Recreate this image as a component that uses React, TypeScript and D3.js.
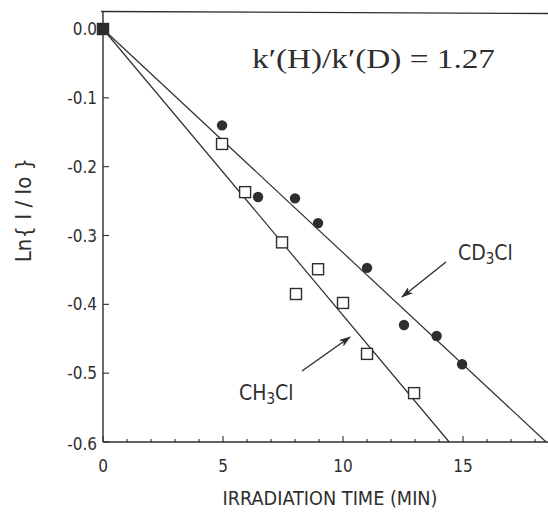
import React from 'react';
import * as d3 from 'd3';

// irradiation time (min) and Ln(I/Io)
const cd3clTime = [0, 4.96, 6.46, 8.0, 8.96, 11.0, 12.54, 13.9, 14.96];
const cd3clLn = [0, -0.14, -0.244, -0.246, -0.282, -0.347, -0.43, -0.446, -0.487];
const ch3clTime = [0, 4.96, 5.92, 7.46, 8.04, 8.96, 10.0, 11.0, 12.96];
const ch3clLn = [0, -0.167, -0.237, -0.31, -0.385, -0.349, -0.398, -0.472, -0.529];

// fitted slopes (per min)
const slopeH = -0.0416;
const slopeD = -0.0325;

const xTicks = [0, 5, 10, 15];
const xMinor = d3.range(0, 19, 1);
const yTicks = [0, -0.1, -0.2, -0.3, -0.4, -0.5, -0.6];
const yTickLabels = ['0.0', '-0.1', '-0.2', '-0.3', '-0.4', '-0.5', '-0.6'];

const W = 548;
const H = 512;
const ink = '#2e2e2e';
const narrow = "'Liberation Sans Narrow', 'DejaVu Sans Condensed', 'Roboto Condensed', sans-serif";

export default function App() {
  const x = d3.scaleLinear().domain([0, 18.54]).range([103, 548]);
  const y = d3.scaleLinear().domain([-0.6, 0]).range([442, 29]);

  const line = d3.line<number>().x((t) => x(t[0])).y((t) => y(t[1]));
  const fitH = [[0, 0], [-0.6 / slopeH, -0.6]];
  const fitD = [[0, 0], [-0.6 / slopeD, -0.6]];

  const circles = cd3clTime.map((t, i) => ({ t, v: cd3clLn[i] }));
  const squares = ch3clTime.map((t, i) => ({ t, v: ch3clLn[i] }));

  const x0 = x(0);
  const yBottom = y(-0.6);
  const yTop = 11.5;

  return (
    <svg width={W} height={H} style={{ position: 'absolute', left: 0, top: 0, background: '#fff' }}>
      <defs>
        <marker id="arrow" viewBox="0 0 12 8" refX="11" refY="4" markerWidth="12" markerHeight="8" markerUnits="userSpaceOnUse" orient="auto">
          <path d="M0,0 L12,4 L0,8 L3,4 Z" fill={ink} />
        </marker>
      </defs>

      {/* frame */}
      <line x1={x0 - 2} x2={W} y1={yTop} y2={yTop + 2} stroke={ink} strokeWidth={1.3} />
      <line x1={x0} x2={x0} y1={yTop} y2={yBottom} stroke={ink} strokeWidth={1.4} />
      <line x1={x0} x2={W} y1={yBottom} y2={yBottom} stroke={ink} strokeWidth={1.4} />

      {/* x ticks */}
      {xMinor.map((t) => (
        <line key={'m' + t} x1={x(t)} x2={x(t)} y1={yBottom} y2={yBottom - (t % 5 === 0 ? 6 : 3)} stroke={ink} strokeWidth={1.1} />
      ))}
      {xTicks.map((t) => (
        <text key={'xt' + t} x={x(t)} y={472} textAnchor="middle" fontFamily={narrow} fontSize={17} fill={ink}>
          {t}
        </text>
      ))}

      {/* y ticks */}
      {yTicks.map((v, i) => (
        <g key={'yt' + i}>
          <line x1={x0} x2={x0 + 6} y1={y(v)} y2={y(v)} stroke={ink} strokeWidth={1.1} />
          <text x={97} y={y(v) + (v === -0.6 ? 8 : 6)} textAnchor="end" fontFamily={narrow} fontSize={17} fill={ink}>
            {yTickLabels[i]}
          </text>
        </g>
      ))}

      {/* fitted lines */}
      <path d={line(fitD as any) || ''} fill="none" stroke={ink} strokeWidth={1.2} />
      <path d={line(fitH as any) || ''} fill="none" stroke={ink} strokeWidth={1.2} />

      {/* CH3Cl: open squares */}
      {squares.map((d, i) => (
        <rect key={'s' + i} x={x(d.t) - 5.5} y={y(d.v) - 5.5} width={11} height={11} fill={i === 0 ? ink : '#fff'} stroke={ink} strokeWidth={1.4} />
      ))}
      {/* CD3Cl: filled circles */}
      {circles.map((d, i) => (
        <circle key={'c' + i} cx={x(d.t)} cy={y(d.v)} r={5.2} fill={ink} />
      ))}

      {/* annotations */}
      <text x={252} y={68} fontFamily="'Liberation Serif', 'DejaVu Serif', serif" fontSize={28} fill={ink} textLength={243} lengthAdjust="spacingAndGlyphs">
        k′(H)/k′(D) = 1.27
      </text>

      <text x={458} y={260} fontFamily={narrow} fontSize={21} fill={ink}>
        CD<tspan fontSize={15} dy={4}>3</tspan><tspan dy={-4}>Cl</tspan>
      </text>
      <line x1={446} y1={262} x2={402} y2={297} stroke={ink} strokeWidth={1.4} markerEnd="url(#arrow)" />

      <text x={239} y={400} fontFamily={narrow} fontSize={21} fill={ink}>
        CH<tspan fontSize={15} dy={4}>3</tspan><tspan dy={-4}>Cl</tspan>
      </text>
      <line x1={302} y1={371} x2={350} y2={337} stroke={ink} strokeWidth={1.4} markerEnd="url(#arrow)" />

      {/* axis titles */}
      <text x={330} y={505} textAnchor="middle" fontFamily={narrow} fontSize={19} fill={ink} textLength={215} lengthAdjust="spacingAndGlyphs">
        IRRADIATION TIME (MIN)
      </text>
      <text transform="translate(31,210) rotate(-90)" textAnchor="middle" fontFamily={narrow} fontSize={22} fill={ink}>
        Ln{'{'} I / Io {'}'}
      </text>
    </svg>
  );
}
